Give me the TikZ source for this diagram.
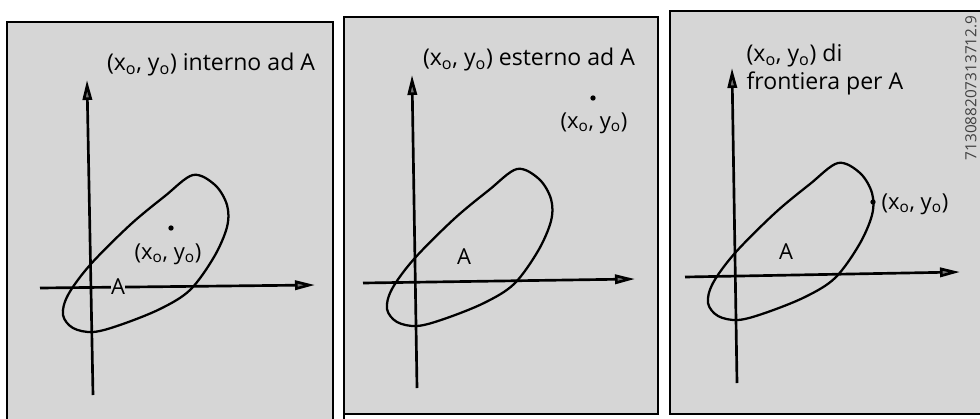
\documentclass[tikz,border=0pt]{standalone}
\usepackage{fontspec}
\setmainfont{Open Sans}
\usetikzlibrary{arrows.meta}
\definecolor{bg}{gray}{0.84}
\tikzset{
  panel/.style={fill=bg, draw=black, line width=1.5pt},
  axis/.style={line width=2pt, -{Triangle[length=15pt,width=7pt,fill=black!55]}},
  blob/.style={line width=1.7pt},
  lbl/.style={font=\fontsize{16.5}{19}\selectfont, inner sep=1pt},
  ttl/.style={font=\fontsize{17.3}{21}\selectfont, inner sep=1pt},
  pt/.style={circle, fill=black, inner sep=0pt, minimum size=4pt},
}
\newcommand{\xy}{(x\textsubscript{o}, y\textsubscript{o})}
\newcommand{\blobpath}{plot[smooth cycle, tension=0.55] coordinates {(103,-112) (125,-102) (137,-82) (137,-60) (124,-30) (100,3) (70,22) (30,38) (3,45) (-17,41) (-27,28) (-22,8) (0,-22) (40,-62) (75,-91)}}
\begin{document}
\begin{tikzpicture}[x=0.75pt,y=-0.75pt]
\useasboundingbox (0,0) rectangle (980,418);
% panels
\path[panel] (7,420) -- (7,22) -- (333,22) -- (333,420);
\path[panel] (344,420) -- (344,17) -- (658,17) -- (658,414) -- (344,414);
\path[panel] (990,11) -- (670,11) -- (670,414) -- (990,414);

% ---------- panel 1 ----------
\coordinate (o1) at (90,287);
\coordinate (v1b) at (93,395);
\coordinate (v1t) at (87,80);
\coordinate (h1l) at (40,288);
\coordinate (h1r) at (315,285);
\draw[blob, shift={(o1)}] \blobpath;
\draw[axis] (v1b) -- (v1t);
\draw[axis] (h1l) -- (h1r);
\node[pt] (p1) at (171,228) {};
\node[lbl] (l1) at (168,254) {\xy};
\node[lbl, fill=bg, inner sep=0.3pt] (a1) at (118,287) {A};
\node[ttl] (t1) at (211,65) {\xy{} interno ad A};

% ---------- panel 2 ----------
\coordinate (o2) at (414,281);
\coordinate (v2b) at (417,388);
\coordinate (v2t) at (412,75);
\coordinate (h2l) at (363,283);
\coordinate (h2r) at (635,279);
\draw[blob, shift={(o2)}] \blobpath;
\draw[axis] (v2b) -- (v2t);
\draw[axis] (h2l) -- (h2r);
\node[pt] (p2) at (593,98) {};
\node[lbl] (l2) at (594,123) {\xy};
\node[lbl] (a2) at (464,257) {A};
\node[ttl] (t2) at (529,60) {\xy{} esterno ad A};

% ---------- panel 3 ----------
\coordinate (o3) at (735,275);
\coordinate (v3b) at (737,383);
\coordinate (v3t) at (732,68);
\coordinate (h3l) at (685,277);
\coordinate (h3r) at (960,272);
\draw[blob, shift={(o3)}] \blobpath;
\draw[axis] (v3b) -- (v3t);
\draw[axis] (h3l) -- (h3r);
\node[pt] (p3) at (873,202) {};
\node[lbl, anchor=west] (l3) at (880,204) {\xy};
\node[lbl] (a3) at (786,252) {A};
\node[ttl, anchor=west, align=left] (t3) at (745,70) {\xy{} di\\frontiera per A};

\node[rotate=90, text=black!75, font=\fontsize{11.5}{13}\selectfont, inner sep=0pt] (num) at (971,88) {713088207313712.9};
\end{tikzpicture}
\end{document}
